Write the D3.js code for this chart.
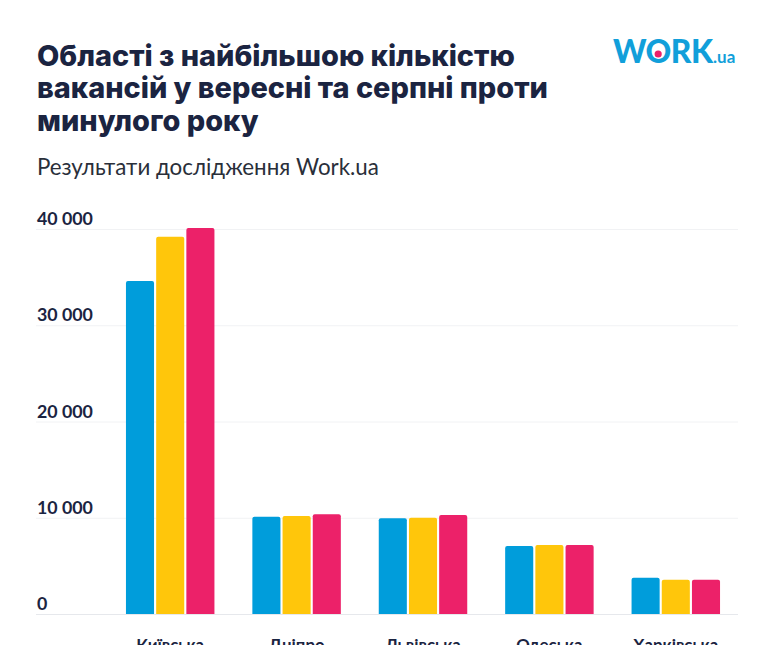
<!DOCTYPE html>
<html><head><meta charset="utf-8">
<script src="https://cdn.jsdelivr.net/npm/d3@7"></script>
<style>
html,body{margin:0;padding:0;background:#fff;}
svg{display:block;font-family:Inter,Lato,"Open Sans",sans-serif;}
</style></head>
<body>
<svg id="chart" width="774" height="645"></svg>
<script>
const categories = ["Київська", "Дніпропетровська", "Львівська", "Одеська", "Харківська"];
const seriesNames = ["Вересень 2020", "Серпень 2021", "Вересень 2021"];
const series0 = [34600, 10110, 9940, 7060, 3770];
const series1 = [39200, 10180, 10010, 7170, 3560];
const series2 = [40100, 10360, 10290, 7170, 3560];
const yTicks = [0, 10000, 20000, 30000, 40000];
const tickLabels = ["0", "10 000", "20 000", "30 000", "40 000"];
const colors = ["#009ddb", "#ffc60b", "#ec2169"];
const labelLines = [["Київська"], ["Дніпро", "петровська"], ["Львівська"], ["Одеська"], ["Харківська"]];

const svg = d3.select("#chart");
const navy = "#1b2441";

function fit(sel, base, target){
  const w = sel.node().getComputedTextLength();
  sel.attr("font-size", base * target / w);
  return base * target / w;
}

// title
const titleLines = ["Області з найбільшою кількістю", "вакансій у вересні та серпні проти", "минулого року"];
const tBase = [65.5, 98, 130.5];
const tl = svg.append("g").selectAll("text").data(titleLines).join("text")
  .attr("x", 37).attr("y", (d,i)=>tBase[i])
  .attr("fill", navy).attr("font-weight", 800).attr("font-size", 27)
  .attr("font-family", "Inter, sans-serif")
  .text(d=>d);
const w0 = tl.nodes()[0].getComputedTextLength();
tl.attr("font-size", 27 * 478 / w0);

const sub = svg.append("text").attr("x", 37).attr("y", 175)
  .attr("fill", "#2a2f3a").attr("font-size", 19).attr("font-weight", 400)
  .attr("font-family", "Lato, sans-serif")
  .text("Результати дослідження Work.ua");
fit(sub, 19, 342);

// logo
const logo = svg.append("g");
const lw = logo.append("text").attr("x", 613).attr("y", 63)
  .attr("fill", "#119fda").attr("font-weight", 900).attr("font-size", 25)
  .attr("font-family", "Lato, sans-serif")
  .attr("letter-spacing", -0.5).text("WORK");
fit(lw, 25, 99);
logo.append("text").attr("x", 713).attr("y", 63)
  .attr("fill", "#119fda").attr("font-weight", 700).attr("font-size", 17)
  .attr("font-family", "Lato, sans-serif")
  .text(".ua");
const oStart = lw.node().getStartPositionOfChar(1).x;
const oEnd = lw.node().getEndPositionOfChar(1).x;
logo.append("circle").attr("cx", (oStart+oEnd)/2).attr("cy", 54).attr("r", 3.6).attr("fill", "#ec2169");

// scales
const y = d3.scaleLinear().domain([0, 40000]).range([614, 229]);
const x0 = d3.scaleBand().domain(categories).range([107, 739]).paddingInner(0.3).paddingOuter(0.15);
const x1 = d3.scaleBand().domain([0,1,2]).range([0, x0.bandwidth()]).paddingInner(0.07);

// grid
const grid = svg.append("g");
grid.selectAll("line").data(yTicks).join("line")
  .attr("x1", 36).attr("x2", 738)
  .attr("y1", d=>y(d)+0.5).attr("y2", d=>y(d)+0.5)
  .attr("stroke", (d)=> d===0 ? "#e6e8ec" : "#f1f2f4").attr("stroke-width", 1);
const tlab = grid.selectAll("text").data(yTicks).join("text")
  .attr("x", 37).attr("y", d=>y(d)-4)
  .attr("fill", navy).attr("font-weight", 700).attr("font-size", 15)
  .attr("font-family", "Lato, sans-serif")
  .text((d,i)=>tickLabels[i]);
const wt = tlab.nodes()[4].getComputedTextLength();
tlab.attr("font-size", 15 * 56 / wt);

// bars
const allSeries = [series0, series1, series2];
const data = [];
categories.forEach((c, ci)=>{
  allSeries.forEach((s, si)=>{ data.push({c, si, v: s[ci]}); });
});
function barPath(x, yTop, w, yBot, r){
  return `M${x},${yBot}V${yTop+r}Q${x},${yTop} ${x+r},${yTop}H${x+w-r}Q${x+w},${yTop} ${x+w},${yTop+r}V${yBot}Z`;
}
svg.append("g").selectAll("path").data(data).join("path")
  .attr("d", d=>barPath(x0(d.c)+x1(d.si), y(d.v), x1.bandwidth(), y(0), 2))
  .attr("fill", d=>colors[d.si]);

// category labels (cut at the bottom edge as in the reference)
const labelData = [];
categories.forEach((c, i)=>labelLines[i].forEach((ln, k)=>labelData.push({c, ln, k})));
const cl = svg.append("g").selectAll("text").data(labelData).join("text")
  .attr("x", d=>x0(d.c)+x0.bandwidth()/2).attr("y", d=>651 + d.k*20)
  .attr("text-anchor", "middle").attr("fill", navy)
  .attr("font-weight", 700).attr("font-size", 15)
  .attr("font-family", "Lato, sans-serif")
  .text(d=>d.ln);
const wk = cl.nodes()[0].getComputedTextLength();
cl.attr("font-size", 15 * 68 / wk);
</script>
</body></html>
